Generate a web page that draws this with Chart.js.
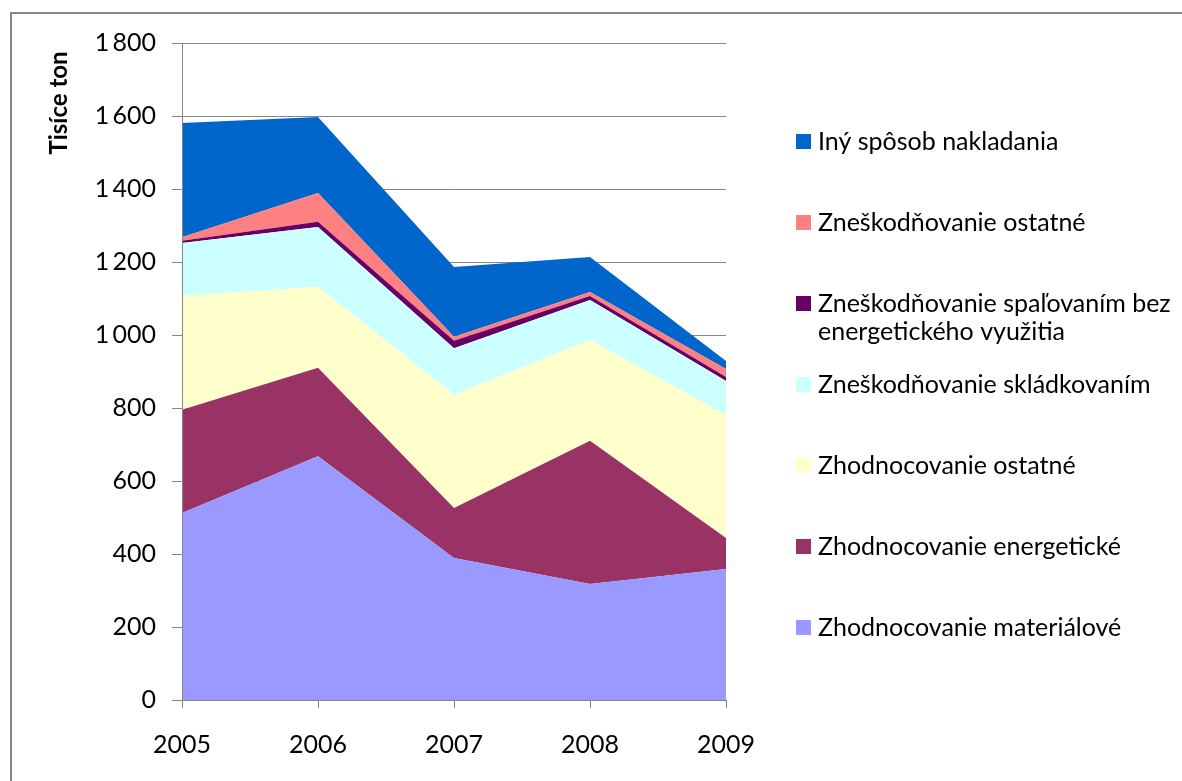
<!DOCTYPE html>
<html>
<head>
<meta charset="utf-8">
<script src="https://cdn.jsdelivr.net/npm/chart.js@4"></script>
<style>
  html, body { margin: 0; padding: 0; background: #fff; }
  #wrap { width: 1182px; height: 781px; position: relative; }
</style>
</head>
<body>
<div id="wrap"><canvas id="wasteChart"></canvas></div>
<script>
const years = ["2005", "2006", "2007", "2008", "2009"];
const yTicks = [0, 200, 400, 600, 800, 1000, 1200, 1400, 1600, 1800];

// thousand tonnes, bottom of the stack first
const materialove = [512, 668, 389, 318, 359];
const energeticke = [283, 242, 137, 392, 85];
const zhodnOstatne = [312, 222, 310, 276, 337];
const skladkovanim = [145, 164, 128, 110, 93];
const spalovanim = [6, 14, 20, 11, 11];
const zneskOstatne = [10, 79, 11, 11, 22];
const inySposob = [313, 208, 191, 96, 22];

const seriesNames = [
  "Zhodnocovanie materiálové",
  "Zhodnocovanie energetické",
  "Zhodnocovanie ostatné",
  "Zneškodňovanie skládkovaním",
  ["Zneškodňovanie spaľovaním bez", "energetického využitia"],
  "Zneškodňovanie ostatné",
  "Iný spôsob nakladania"
];
const seriesValues = [materialove, energeticke, zhodnOstatne, skladkovanim, spalovanim, zneskOstatne, inySposob];
const seriesColors = ["#9999FF", "#993366", "#FFFFCC", "#CCFFFF", "#660066", "#FF8080", "#0066CC"];

const FONT = "Lato, 'Open Sans', sans-serif";

const datasets = seriesValues.map((vals, i) => ({
  label: seriesNames[i],
  data: vals,
  backgroundColor: seriesColors[i],
  borderWidth: 0,
  pointRadius: 0,
  pointHoverRadius: 0,
  tension: 0,
  fill: i === 0 ? "origin" : "-1"
}));

// frame, y title and legend on the right
const decor = {
  id: "decor",
  beforeDraw(c) {
    const ctx = c.ctx;
    ctx.save();
    ctx.strokeStyle = "#868686";
    ctx.lineWidth = 2;
    ctx.strokeRect(11, 13, 1200, 800);
    ctx.restore();
  },
  afterDraw(c) {
    const ctx = c.ctx;
    ctx.save();
    ctx.fillStyle = "#000";
    ctx.font = "bold 24px " + FONT;
    ctx.translate(59, 103);
    ctx.rotate(-Math.PI / 2);
    ctx.textAlign = "center";
    ctx.textBaseline = "middle";
    ctx.fillText("Tisíce ton", 0, 0);
    ctx.restore();

    ctx.save();
    ctx.font = "25px " + FONT;
    ctx.textBaseline = "middle";
    const ds = c.data.datasets.slice().reverse();
    ds.forEach((d, i) => {
      const y = 141 + i * 81;
      ctx.fillStyle = d.backgroundColor;
      ctx.fillRect(796, y - 7, 15, 15);
      ctx.fillStyle = "#000";
      const lines = Array.isArray(d.label) ? d.label : [d.label];
      lines.forEach((t, k) => ctx.fillText(t, 818, y + 1 + k * 28));
    });
    ctx.restore();
  }
};

const chart = new Chart(document.getElementById("wasteChart"), {
  type: "line",
  data: { labels: years, datasets },
  options: {
    responsive: true,
    maintainAspectRatio: false,
    animation: false,
    events: [],
    layout: { padding: { left: 0, right: 456, top: 43, bottom: 0 } },
    plugins: {
      legend: { display: false },
      tooltip: { enabled: false },
      filler: { propagate: false }
    },
    scales: {
      x: {
        offset: false,
        afterFit: s => { s.height = 81; },
        grid: { drawOnChartArea: false, drawTicks: true, tickLength: 8, color: "#868686" },
        border: { color: "#868686", width: 1, z: 1 },
        ticks: { color: "#000", font: { family: FONT, size: 25 }, padding: 22, maxRotation: 0 }
      },
      y: {
        stacked: true,
        min: 0,
        max: 1800,
        afterFit: s => { s.width = 182; },
        afterBuildTicks: s => { s.ticks = yTicks.map(v => ({ value: v })); },
        grid: { color: "#868686", tickLength: 10 },
        border: { color: "#868686", width: 1, z: 1 },
        ticks: {
          color: "#000",
          font: { family: FONT, size: 25 },
          padding: 16,
          callback: v => String(v).replace(/\B(?=(\d{3})+(?!\d))/g, "\u2009")
        }
      }
    }
  },
  plugins: [decor]
});
</script>
</body>
</html>
